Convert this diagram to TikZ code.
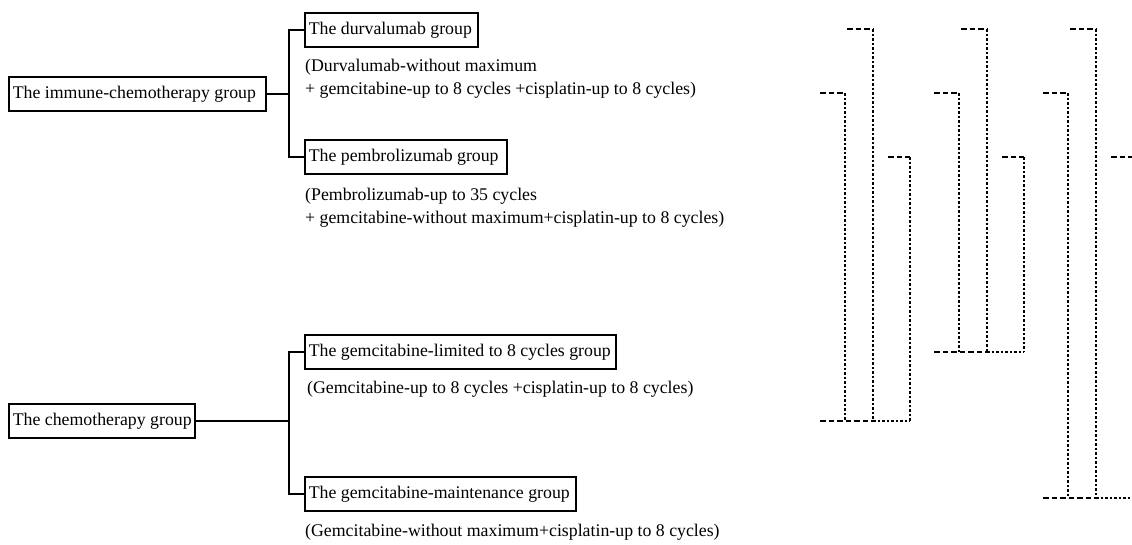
\documentclass[tikz,border=0pt]{standalone}
\usepackage{fontspec}
\setmainfont{Liberation Serif}
\newcommand{\bxtext}[2]{\makebox[#1][l]{#2}}
\tikzset{
  every picture/.style={x=1pt,y=-1pt},
  grp/.style={draw,line width=1.6pt,anchor=north west,inner xsep=4pt,inner ysep=0pt,
    minimum height=34pt,font=\fontsize{17.8}{22}\selectfont},
  note/.style={anchor=west,inner sep=0pt,align=left,font=\fontsize{17.8}{23}\selectfont},
  conn/.style={line width=1.6pt},
  hdash/.style={line width=2.4pt,dash pattern=on 5.5pt off 3pt},
  vdot/.style={line width=2.4pt,dash pattern=on 2.6pt off 1.9pt}
}
\begin{document}
\begin{tikzpicture}
\useasboundingbox (0,0) rectangle (1132,544);
% boxes
\node[grp] (imm) at (8,76) {\bxtext{249pt}{The immune-chemotherapy group}};
\node[grp] (durv) at (304,12) {\bxtext{165pt}{The durvalumab group}};
\node[grp] (pem) at (304,139) {\bxtext{194pt}{The pembrolizumab group}};
\node[grp] (chemo) at (8,403) {\bxtext{178pt}{The chemotherapy group}};
\node[grp] (glim) at (304,334) {\bxtext{303pt}{The gemcitabine-limited to 8 cycles group}};
\node[grp] (gmain) at (304,476) {\bxtext{263pt}{The gemcitabine-maintenance group}};
% notes
\node[note] (n1) at (305,79) {(Durvalumab-without maximum\\+ gemcitabine-up to 8 cycles +cisplatin-up to 8 cycles)};
\node[note] (n2) at (305,207.5) {(Pembrolizumab-up to 35 cycles\\+ gemcitabine-without maximum+cisplatin-up to 8 cycles)};
\node[note] (n3) at (307,389) {(Gemcitabine-up to 8 cycles +cisplatin-up to 8 cycles)};
\node[note] (n4) at (305,532) {(Gemcitabine-without maximum+cisplatin-up to 8 cycles)};
% connectors
\coordinate (j1) at (289,93);
\coordinate (j2) at (289,420);
\draw[conn] (imm.east) -- (imm.east -| j1);
\draw[conn] (durv.west) -| (j1);
\draw[conn] (pem.west) -| (j1);
\draw[conn] (chemo.east) -- (chemo.east -| j2);
\draw[conn] (glim.west) -| (j2);
\draw[conn] (gmain.west) -| (j2);
% dashed brackets, group A
\coordinate (a1) at (847,29); \coordinate (a1c) at (873,29); \coordinate (a1b) at (873,421);
\coordinate (a2) at (820,93); \coordinate (a2c) at (845,93); \coordinate (a2b) at (845,421);
\coordinate (a3) at (888,157); \coordinate (a3c) at (910,157); \coordinate (a3b) at (910,421);
\coordinate (a0) at (820,421);
\draw[hdash] (a1) -- (a1c); \draw[vdot] (a1c) -- (a1b);
\draw[hdash] (a2) -- (a2c); \draw[vdot] (a2c) -- (a2b);
\draw[hdash] (a3) -- (a3c); \draw[vdot] (a3c) -- (a3b);
\draw[hdash] (a0) -- (a1b); \draw[vdot] (a1b) -- (a3b);
% group B
\coordinate (b1) at (961,29); \coordinate (b1c) at (987,29); \coordinate (b1b) at (987,352);
\coordinate (b2) at (934,93); \coordinate (b2c) at (959,93); \coordinate (b2b) at (959,352);
\coordinate (b3) at (1002,157); \coordinate (b3c) at (1024,157); \coordinate (b3b) at (1024,352);
\coordinate (b0) at (934,352);
\draw[hdash] (b1) -- (b1c); \draw[vdot] (b1c) -- (b1b);
\draw[hdash] (b2) -- (b2c); \draw[vdot] (b2c) -- (b2b);
\draw[hdash] (b3) -- (b3c); \draw[vdot] (b3c) -- (b3b);
\draw[hdash] (b0) -- (b1b); \draw[vdot] (b1b) -- (b3b);
% group C
\coordinate (c1) at (1070,29); \coordinate (c1c) at (1096,29); \coordinate (c1b) at (1096,498);
\coordinate (c2) at (1043,93); \coordinate (c2c) at (1068,93); \coordinate (c2b) at (1068,498);
\coordinate (c3) at (1111,157); \coordinate (c3c) at (1132,157);
\coordinate (c0) at (1043,498); \coordinate (c0e) at (1132,498);
\draw[hdash] (c1) -- (c1c); \draw[vdot] (c1c) -- (c1b);
\draw[hdash] (c2) -- (c2c); \draw[vdot] (c2c) -- (c2b);
\draw[hdash] (c3) -- (c3c);
\draw[hdash] (c0) -- (c1b); \draw[vdot] (c1b) -- (c0e);
\end{tikzpicture}
\end{document}
